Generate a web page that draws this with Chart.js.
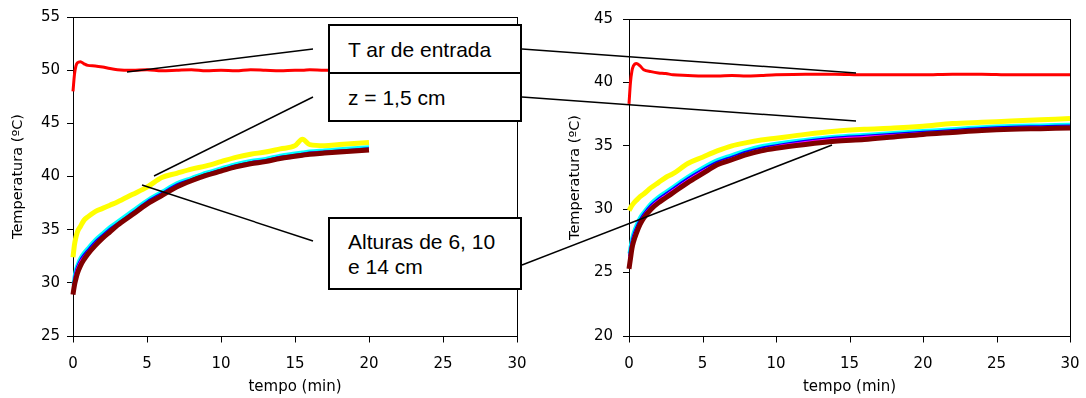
<!DOCTYPE html>
<html>
<head>
<meta charset="utf-8">
<script src="https://cdn.jsdelivr.net/npm/chart.js@4.4.1/dist/chart.umd.min.js"></script>
<style>
  html, body { margin: 0; padding: 0; background: #fff; }
  #wrap { position: relative; width: 1086px; height: 398px; overflow: hidden; }
  .pane { position: absolute; top: 0; height: 398px; }
  #leftPane { left: 0; width: 545px; }
  #rightPane { left: 545px; width: 541px; }
  #leaders { position: absolute; left: 0; top: 0; }
  .box {
    position: absolute; box-sizing: border-box; border: 2px solid #000; background: #fff;
    font-family: "Liberation Sans", Arial, sans-serif; font-size: 21px; color: #000;
    padding-left: 18px; display: flex; flex-direction: column; justify-content: center;
    line-height: 25px;
  }
</style>
</head>
<body>
<div id="wrap">
  <div class="pane" id="leftPane"><canvas id="leftChart"></canvas></div>
  <div class="pane" id="rightPane"><canvas id="rightChart"></canvas></div>
  <svg id="leaders" width="1086" height="398">
    <g stroke="#000" stroke-width="1.5">
      <line x1="127" y1="72" x2="313" y2="49"/>
      <line x1="154" y1="176" x2="313" y2="97"/>
      <line x1="142" y1="185" x2="313" y2="241"/>
      <line x1="522" y1="49" x2="856" y2="73"/>
      <line x1="522" y1="97" x2="856" y2="121"/>
      <line x1="522" y1="265" x2="832" y2="145"/>
    </g>
  </svg>
  <div class="box" style="left:328px; top:24px; width:194px; height:50px;">T ar de entrada</div>
  <div class="box" style="left:328px; top:72px; width:194px; height:50px;">z = 1,5 cm</div>
  <div class="box" style="left:328px; top:217px; width:194px; height:73px;"><div>Alturas de 6, 10</div><div>e 14 cm</div></div>
</div>
<script>
// left panel (20 min run)
const tLeft = [0, 0.1, 0.2, 0.3, 0.5, 0.75, 1, 1.5, 2, 2.5, 3, 4, 5, 6, 7, 8, 9, 10, 11, 12, 13, 14, 15, 15.5, 16, 17, 18, 19, 20];
const leftAr      = [48.0, 49.6, 50.4, 50.7, 50.8, 50.6, 50.45, 50.4, 50.3, 50.15, 50.05, 50.0, 50.05, 49.95, 50.0, 50.05, 49.95, 50.0, 49.95, 50.05, 50.0, 49.95, 50.0, 50.0, 50.05, 50.0, 50.0, 50.0, 50.0];
const leftZ15     = [32.4, 33.6, 34.3, 34.8, 35.3, 35.9, 36.2, 36.7, 37.0, 37.3, 37.6, 38.3, 39.0, 39.9, 40.3, 40.7, 41.0, 41.4, 41.8, 42.1, 42.3, 42.6, 42.9, 43.5, 43.0, 42.9, 43.0, 43.1, 43.2];
const leftCyan    = [29.8, 30.8, 31.4, 31.8, 32.4, 32.9, 33.3, 34.1, 34.7, 35.3, 35.8, 36.8, 37.8, 38.6, 39.4, 39.9, 40.4, 40.8, 41.2, 41.5, 41.7, 42.0, 42.2, 42.3, 42.4, 42.5, 42.6, 42.7, 42.8];
const leftBlue    = [29.6, 30.6, 31.2, 31.6, 32.2, 32.7, 33.1, 33.9, 34.5, 35.1, 35.6, 36.6, 37.65, 38.45, 39.25, 39.75, 40.25, 40.65, 41.05, 41.35, 41.55, 41.85, 42.05, 42.15, 42.25, 42.35, 42.45, 42.55, 42.65];
const leftMagenta = [29.4, 30.4, 31.0, 31.4, 32.0, 32.5, 32.9, 33.7, 34.35, 34.95, 35.5, 36.5, 37.5, 38.35, 39.1, 39.65, 40.15, 40.6, 40.95, 41.3, 41.5, 41.8, 42.0, 42.1, 42.2, 42.3, 42.4, 42.5, 42.6];
const leftDarkRed = [28.9, 29.8, 30.4, 30.9, 31.6, 32.2, 32.7, 33.5, 34.2, 34.8, 35.4, 36.4, 37.4, 38.2, 39.0, 39.6, 40.1, 40.5, 40.9, 41.2, 41.4, 41.7, 41.9, 42.0, 42.1, 42.2, 42.3, 42.4, 42.5];

// right panel (30 min run)
const tRight = [0, 0.1, 0.2, 0.3, 0.5, 0.75, 1, 1.5, 2, 2.5, 3, 4, 5, 6, 7, 8, 9, 10, 12, 14, 16, 18, 20, 22, 24, 26, 28, 30];
const rightAr      = [38.3, 40.0, 40.9, 41.3, 41.5, 41.3, 41.0, 40.85, 40.75, 40.7, 40.6, 40.55, 40.5, 40.5, 40.55, 40.5, 40.55, 40.6, 40.65, 40.65, 40.6, 40.6, 40.6, 40.65, 40.65, 40.6, 40.6, 40.6];
const rightZ15     = [29.9, 30.1, 30.3, 30.45, 30.7, 31.0, 31.2, 31.7, 32.1, 32.5, 32.8, 33.6, 34.1, 34.6, 35.0, 35.25, 35.45, 35.6, 35.9, 36.15, 36.3, 36.4, 36.55, 36.75, 36.85, 36.95, 37.05, 37.15];
const rightCyan    = [26.5, 27.2, 27.8, 28.2, 28.8, 29.4, 29.8, 30.5, 31.0, 31.4, 31.8, 32.6, 33.3, 33.9, 34.3, 34.7, 35.0, 35.2, 35.5, 35.75, 35.9, 36.05, 36.2, 36.35, 36.5, 36.6, 36.65, 36.7];
const rightBlue    = [26.3, 27.0, 27.6, 28.0, 28.6, 29.2, 29.65, 30.35, 30.85, 31.25, 31.65, 32.45, 33.15, 33.75, 34.15, 34.55, 34.85, 35.05, 35.4, 35.65, 35.8, 35.95, 36.1, 36.25, 36.4, 36.5, 36.55, 36.6];
const rightMagenta = [26.1, 26.8, 27.4, 27.8, 28.4, 29.0, 29.5, 30.2, 30.7, 31.1, 31.5, 32.3, 33.0, 33.6, 34.0, 34.4, 34.7, 34.95, 35.3, 35.55, 35.7, 35.85, 36.0, 36.15, 36.3, 36.4, 36.45, 36.5];
const rightDarkRed = [25.3, 26.1, 26.9, 27.4, 28.1, 28.8, 29.3, 30.0, 30.5, 30.9, 31.3, 32.1, 32.8, 33.5, 33.9, 34.3, 34.6, 34.8, 35.1, 35.35, 35.5, 35.7, 35.9, 36.05, 36.2, 36.3, 36.35, 36.4];

const xTicks = [0, 5, 10, 15, 20, 25, 30];

// plot frame + short x tick marks (the x grid ticks are kept long but invisible to push labels down)
const frame = {
  id: 'frame',
  beforeDatasetsDraw(chart) {
    const { ctx, chartArea: a } = chart;
    const xs = chart.scales.x;
    const b = Math.round(a.bottom) + 0.5;
    ctx.save();
    ctx.strokeStyle = '#000';
    ctx.lineWidth = 1;
    ctx.strokeRect(Math.round(a.left) + 0.5, Math.round(a.top) + 0.5,
      Math.round(a.right - a.left), Math.round(a.bottom - a.top));
    ctx.beginPath();
    xTicks.forEach(v => {
      const px = Math.round(xs.getPixelForValue(v)) + 0.5;
      ctx.moveTo(px, b);
      ctx.lineTo(px, b + 6);
    });
    ctx.stroke();
    ctx.restore();
  }
};

const pts = (t, v) => t.map((x, i) => ({ x, y: v[i] }));

function ds(t, v, color, width, order) {
  return {
    data: pts(t, v), borderColor: color, backgroundColor: color,
    borderWidth: width, pointRadius: 0, tension: 0, cubicInterpolationMode: 'monotone',
    clip: false, order
  };
}

function makeChart(id, t, s, yMin, yMax, o) {
  return new Chart(document.getElementById(id), {
    type: 'line',
    data: {
      datasets: [
        ds(t, s.dark, '#800000', 5, 1),
        ds(t, s.mag, '#ff00ff', 2, 2),
        ds(t, s.blue, '#0000ff', 2, 3),
        ds(t, s.cyan, '#00ffff', 3, 4),
        ds(t, s.yel, '#ffff00', 5, 5),
        ds(t, s.red, '#ff0000', 3, 6)
      ]
    },
    options: {
      responsive: true, maintainAspectRatio: false, animation: false,
      layout: { padding: { top: 17, right: o.right, bottom: 0, left: 0 } },
      plugins: { legend: { display: false }, tooltip: { enabled: false } },
      scales: {
        x: {
          type: 'linear', min: 0, max: 30,
          afterBuildTicks: ax => { ax.ticks = xTicks.map(v => ({ value: v })); },
          afterFit: ax => { ax.height = 62; },
          grid: { drawOnChartArea: false, drawTicks: true, tickLength: 15, tickColor: 'rgba(0,0,0,0)' },
          border: { display: false },
          ticks: { color: '#000', padding: 4, font: { family: 'DejaVu Sans', size: 15 }, maxRotation: 0 },
          title: { display: true, text: 'tempo (min)', color: '#000', padding: { top: 0, bottom: 2 },
                   font: { family: 'DejaVu Sans', size: 15 } }
        },
        y: {
          min: yMin, max: yMax,
          ticks: { stepSize: 5, color: '#000', padding: o.tickPad, font: { family: 'DejaVu Sans', size: 15 } },
          afterFit: ax => { ax.width = o.axisW; },
          grid: { drawOnChartArea: false, drawTicks: true, tickLength: 6, color: '#000' },
          border: { display: false },
          title: { display: true, text: 'Temperatura (ºC)', color: '#000', padding: { top: o.titlePad, bottom: 0 },
                   font: { family: 'DejaVu Sans', size: 14.5 } }
        }
      }
    },
    plugins: [frame]
  });
}

makeChart('leftChart', tLeft,
  { red: leftAr, yel: leftZ15, cyan: leftCyan, blue: leftBlue, mag: leftMagenta, dark: leftDarkRed },
  25, 55, { right: 28, axisW: 73, titlePad: 10, tickPad: 7 });

makeChart('rightChart', tRight,
  { red: rightAr, yel: rightZ15, cyan: rightCyan, blue: rightBlue, mag: rightMagenta, dark: rightDarkRed },
  20, 45, { right: 16, axisW: 84, titlePad: 22, tickPad: 10 });
</script>
</body>
</html>
